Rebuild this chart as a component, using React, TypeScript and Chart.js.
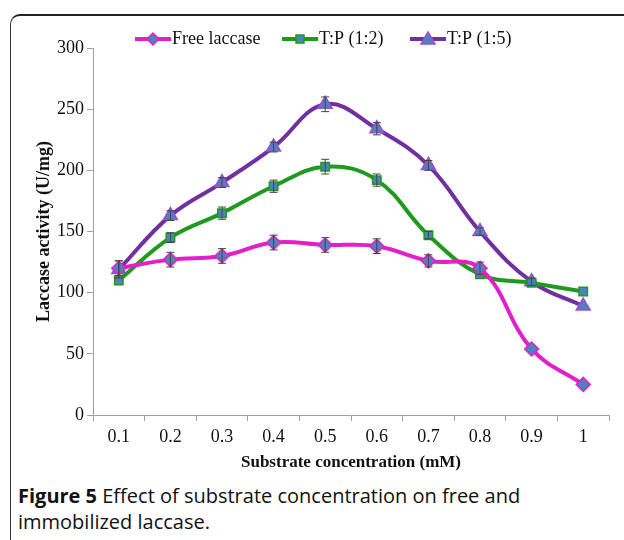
import React, { useEffect, useRef } from "react";
import { Chart, registerables } from "chart.js";

Chart.register(...registerables);

const categories = ["0.1", "0.2", "0.3", "0.4", "0.5", "0.6", "0.7", "0.8", "0.9", "1"];
const freeLaccase = [120, 127, 130, 141, 139, 138, 126, 120, 54, 25];
const freeErr = [6, 6, 6, 6, 6, 6, 5, 5, 0, 0];
const tp12 = [110, 145, 165, 187, 203, 192, 147, 115, 108, 101];
const tp12Err = [0, 4, 5, 5, 6, 5, 3, 0, 0, 0];
const tp15 = [119, 163, 190, 219, 254, 234, 204, 150, 109, 89];
const tp15Err = [7, 4, 4, 4, 6, 5, 4, 3, 3, 0];
const yTicks = [0, 50, 100, 150, 200, 250, 300];

const seriesNames = ["Free laccase", "T:P (1:2)", "T:P (1:5)"];
const errors = [freeErr, tp12Err, tp15Err];

const errorBarPlugin = {
  id: "errorBars",
  afterDatasetsDraw(chart: any) {
    const { ctx, scales } = chart;
    const y = scales.y;
    ctx.save();
    ctx.strokeStyle = "#444";
    ctx.lineWidth = 1;
    chart.data.datasets.forEach((ds: any, i: number) => {
      const meta = chart.getDatasetMeta(i);
      meta.data.forEach((pt: any, j: number) => {
        const e = errors[i][j];
        if (!e) return;
        const v = ds.data[j];
        const y1 = y.getPixelForValue(v + e);
        const y2 = y.getPixelForValue(v - e);
        const x = pt.x;
        ctx.beginPath();
        ctx.moveTo(x, y1);
        ctx.lineTo(x, y2);
        ctx.moveTo(x - 4, y1);
        ctx.lineTo(x + 4, y1);
        ctx.moveTo(x - 4, y2);
        ctx.lineTo(x + 4, y2);
        ctx.stroke();
      });
    });
    ctx.restore();
  },
};

const legendPositions = [135, 282, 410];

const customLegendPlugin = {
  id: "customLegend",
  afterDraw(chart: any) {
    const { ctx } = chart;
    ctx.save();
    chart.data.datasets.forEach((ds: any, i: number) => {
      const x0 = legendPositions[i];
      const yc = 39;
      ctx.strokeStyle = ds.borderColor;
      ctx.lineWidth = 4;
      ctx.beginPath();
      ctx.moveTo(x0, yc);
      ctx.lineTo(x0 + 36, yc);
      ctx.stroke();
      const cx = x0 + 18;
      ctx.fillStyle = ds.pointBackgroundColor;
      ctx.strokeStyle = ds.pointBorderColor;
      ctx.lineWidth = 1.5;
      ctx.beginPath();
      if (ds.pointStyle === "rectRot") {
        ctx.moveTo(cx, yc - 6);
        ctx.lineTo(cx + 6, yc);
        ctx.lineTo(cx, yc + 6);
        ctx.lineTo(cx - 6, yc);
        ctx.closePath();
      } else if (ds.pointStyle === "rect") {
        ctx.rect(cx - 4, yc - 4, 8, 8);
      } else {
        ctx.moveTo(cx, yc - 7);
        ctx.lineTo(cx + 7, yc + 5);
        ctx.lineTo(cx - 7, yc + 5);
        ctx.closePath();
      }
      ctx.fill();
      ctx.stroke();
      ctx.fillStyle = "#111";
      ctx.font = "18px 'Liberation Serif'";
      ctx.textBaseline = "middle";
      ctx.textAlign = "left";
      ctx.fillText(ds.label, x0 + 37, yc);
    });
    ctx.restore();
  },
};

export default function App() {
  const ref = useRef<HTMLCanvasElement>(null);
  useEffect(() => {
    if (!ref.current) return;
    const markerFill = "#4F81BD";
    const chart = new Chart(ref.current, {
      type: "line",
      data: {
        labels: categories,
        datasets: [
          {
            label: seriesNames[0],
            data: freeLaccase,
            borderColor: "#E21FC8",
            borderWidth: 4,
            tension: 0.4,
            pointStyle: "rectRot",
            pointRadius: 7,
            pointBackgroundColor: markerFill,
            pointBorderColor: "#E21FC8",
            pointBorderWidth: 1.5,
          },
          {
            label: seriesNames[1],
            data: tp12,
            borderColor: "#1F9A1F",
            borderWidth: 4,
            tension: 0.4,
            pointStyle: "rect",
            pointRadius: 6,
            pointBackgroundColor: markerFill,
            pointBorderColor: "#1F9A1F",
            pointBorderWidth: 1.5,
          },
          {
            label: seriesNames[2],
            data: tp15,
            borderColor: "#7030A0",
            borderWidth: 4,
            tension: 0.4,
            pointStyle: "triangle",
            pointRadius: 8,
            pointBackgroundColor: markerFill,
            pointBorderColor: "#9A50D0",
            pointBorderWidth: 1.5,
          },
        ] as any,
      },
      options: {
        animation: false,
        responsive: false,
        layout: { padding: { left: 0, top: 48, right: 15, bottom: 0 } },
        plugins: {
          legend: { display: false },
          tooltip: { enabled: false },
        },
        scales: {
          x: {
            type: "category",
            offset: true,
            grid: {
              offset: true,
              drawOnChartArea: false,
              drawTicks: true,
              tickLength: 6,
              color: "#A0A0A0",
            },
            border: { color: "#A0A0A0", width: 1 },
            ticks: {
              color: "#111",
              font: { family: "'Liberation Serif'", size: 18 },
              padding: 5,
              maxRotation: 0,
            },
            title: {
              display: true,
              text: "Substrate concentration (mM)",
              color: "#111",
              font: { family: "'Liberation Serif'", size: 17, weight: "bold" },
              padding: { top: 0, bottom: 7 },
            },
            afterFit: (s: any) => {
              s.height = 65;
            },
          },
          y: {
            min: 0,
            max: 300,
            afterBuildTicks: (s: any) => {
              s.ticks = yTicks.map((v) => ({ value: v }));
            },
            grid: {
              drawOnChartArea: false,
              drawTicks: true,
              tickLength: 6,
              color: "#A0A0A0",
            },
            border: { color: "#A0A0A0", width: 1 },
            ticks: {
              color: "#111",
              font: { family: "'Liberation Serif'", size: 18 },
              padding: 3,
            },
            title: {
              display: true,
              text: "Laccase activity (U/mg)",
              color: "#111",
              font: { family: "'Liberation Serif'", size: 18, weight: "bold" },
              padding: { top: 34, bottom: 0 },
            },
            afterFit: (s: any) => {
              s.width = 93;
            },
          },
        },
      },
      plugins: [errorBarPlugin, customLegendPlugin],
    } as any);
    return () => chart.destroy();
  }, []);

  return (
    <div style={{ position: "absolute", left: 0, top: 0, width: 624, height: 540, overflow: "hidden", background: "#fff" }}>
      <div
        style={{
          position: "absolute",
          left: 10,
          top: 14,
          width: 700,
          height: 600,
          borderTop: "2px solid #222",
          borderLeft: "1.5px solid #333",
          borderTopLeftRadius: 10,
          boxSizing: "border-box",
        }}
      />
      <canvas ref={ref} width={624} height={480} style={{ position: "absolute", left: 0, top: 0 }} />
      <div
        style={{
          position: "absolute",
          left: 18,
          top: 483,
          width: 600,
          fontFamily: "'Open Sans', sans-serif",
          fontSize: 20,
          lineHeight: "26px",
          color: "#111",
        }}
      >
        <b>Figure 5</b> Effect of substrate concentration on free and immobilized laccase.
      </div>
    </div>
  );
}
